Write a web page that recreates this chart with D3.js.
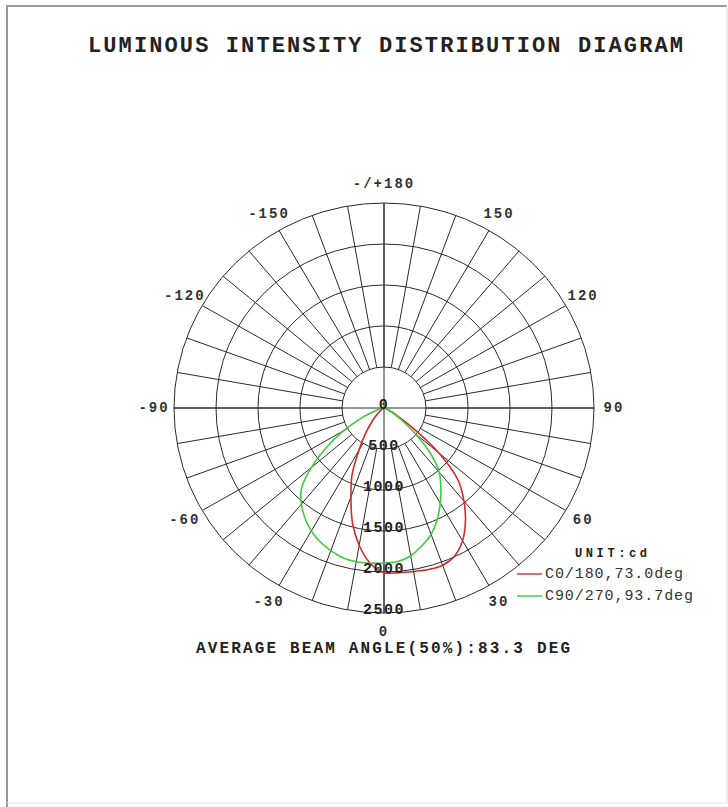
<!DOCTYPE html>
<html><head><meta charset="utf-8">
<script src="https://cdn.jsdelivr.net/npm/d3@7"></script>
<style>body{margin:0;background:#fff}svg{display:block}</style>
</head><body>
<script>
// ---- data ----
const gammaAngles = [0,5,10,15,20,25,30,35,40,45,50,55,60,65,70,75,80,85,90];
// C0/180 plane (red): positive side (right) and negative side (left)
const c0Side   = [2010,2015,2025,2040,2040,1990,1870,1690,1480,1250,850,400,160,65,30,15,8,4,0];
const c180Side = [2010,1900,1700,1450,1150,900,600,390,235,135,70,35,15,8,4,2,1,0,0];
// C90/270 plane (green)
const c90Side  = [1890,1880,1830,1740,1640,1500,1340,1180,1020,780,480,250,120,60,30,15,6,2,0];
const c270Side = [1890,1900,1905,1890,1850,1800,1730,1640,1530,1390,1130,830,560,320,150,70,30,10,0];
const ringValues = [500,1000,1500,2000,2500];
const ringLabels = ["0","500","1000","1500","2000","2500"];
const ringLabelValues = [0,500,1000,1500,2000,2500];
const angleTickValues = [180,150,120,90,60,30,0,-30,-60,-90,-120,-150];
const angleTickLabels = ["-/+180","150","120","90","60","30","0","-30","-60","-90","-120","-150"];
const seriesNames = ["C0/180,73.0deg","C90/270,93.7deg"];
const seriesColors = ["#d42a2a","#3ccc3c"];
const titleText = "LUMINOUS INTENSITY DISTRIBUTION DIAGRAM";
const footText = "AVERAGE BEAM ANGLE(50%):83.3 DEG";
const unitText = "UNIT:cd";

// ---- layout ----
const W = 728, H = 807, cx = 384, cy = 408;
const rX = d3.scaleLinear().domain([0,2500]).range([0,210]);
const rY = d3.scaleLinear().domain([0,2500]).range([0,205]);
const rad = d => d*Math.PI/180;
const px = (v,g) => cx + rX(v)*Math.sin(rad(g));
const py = (v,g) => cy + rY(v)*Math.cos(rad(g));
const FONT = "'Liberation Mono','DejaVu Sans Mono',monospace";

const svg = d3.select("body").append("svg").attr("width",W).attr("height",H);
svg.append("rect").attr("width",W).attr("height",H).attr("fill","#fff");

// frame
svg.append("line").attr("x1",6).attr("x2",727).attr("y1",6).attr("y2",6).attr("stroke","#999").attr("stroke-width",2);
svg.append("line").attr("x1",7).attr("x2",7).attr("y1",6).attr("y2",807).attr("stroke","#999").attr("stroke-width",2);
svg.append("line").attr("x1",727).attr("x2",727).attr("y1",6).attr("y2",803).attr("stroke","#ddd").attr("stroke-width",1);
svg.append("line").attr("x1",7).attr("x2",727).attr("y1",803).attr("y2",803).attr("stroke","#e6e6e6").attr("stroke-width",1);

// title
svg.append("text").attr("x",88).attr("y",52).attr("textLength",595).attr("lengthAdjust","spacing")
  .style("font-family",FONT).style("font-size","22px").style("font-weight","bold").attr("fill","#222").text(titleText);

const grid = svg.append("g").attr("stroke","#2a2a2a").attr("stroke-width",1).attr("fill","none");
// rings
grid.selectAll("ellipse").data(ringValues).join("ellipse")
  .attr("cx",cx).attr("cy",cy).attr("rx",d=>rX(d)).attr("ry",d=>rY(d));
// spokes every 10 deg from inner ring to outer ring
const spokes = d3.range(-170,181,10);
grid.selectAll("line.spoke").data(spokes).join("line").attr("class","spoke")
  .attr("x1",g=>px(ringValues[0],g)).attr("y1",g=>py(ringValues[0],g))
  .attr("x2",g=>px(2500,g)).attr("y2",g=>py(2500,g));
// main axes
grid.append("line").attr("x1",px(2500,90)).attr("x2",px(2500,-90)).attr("y1",cy).attr("y2",cy);
grid.append("line").attr("x1",cx).attr("x2",cx).attr("y1",py(2500,180)).attr("y2",py(2500,0));

// curves
function buildPoints(pos, neg){
  const pts = [];
  for(let i=gammaAngles.length-1;i>0;i--) pts.push({g:-gammaAngles[i], v:neg[i]});
  for(let i=0;i<gammaAngles.length;i++) pts.push({g:gammaAngles[i], v:pos[i]});
  return pts;
}
const line = d3.line().x(d=>px(d.v,d.g)).y(d=>py(d.v,d.g)).curve(d3.curveCatmullRom.alpha(0.5));
const seriesData = [buildPoints(c0Side,c180Side), buildPoints(c90Side,c270Side)];
svg.append("g").selectAll("path").data(seriesData).join("path")
  .attr("d",line).attr("fill","none").attr("stroke",(d,i)=>seriesColors[i]).attr("stroke-width",1.6).attr("stroke-linejoin","round");

// ring labels
svg.append("g").selectAll("text").data(ringLabelValues).join("text")
  .attr("x",cx).attr("y",v=>py(v,0)+1).attr("text-anchor","middle")
  .style("font-family",FONT).style("font-size","15px").style("font-weight","bold").style("letter-spacing","1.5px")
  .attr("fill","#222").text((v,i)=>ringLabels[i]);

// angle labels
svg.append("g").selectAll("text").data(angleTickValues).join("text")
  .attr("x",g=>cx + 230*Math.sin(rad(g))).attr("y",g=>cy + 224*Math.cos(rad(g)))
  .attr("text-anchor","middle").attr("dominant-baseline","central")
  .style("font-family",FONT).style("font-size","14px").style("font-weight","bold").style("letter-spacing","2px")
  .attr("fill","#333").text((g,i)=>angleTickLabels[i]);

// footer
svg.append("text").attr("x",196).attr("y",653).attr("textLength",374).attr("lengthAdjust","spacing")
  .style("font-family",FONT).style("font-size","16px").style("font-weight","bold").attr("fill","#222").text(footText);

// legend
svg.append("text").attr("x",575).attr("y",557).attr("textLength",72).attr("lengthAdjust","spacing")
  .style("font-family",FONT).style("font-size","12px").style("font-weight","bold").attr("fill","#222").text(unitText);
const leg = svg.append("g").selectAll("g").data(seriesNames).join("g")
  .attr("transform",(d,i)=>`translate(517,${574+i*22})`);
leg.append("line").attr("x1",0).attr("x2",25).attr("y1",0).attr("y2",0).attr("stroke",(d,i)=>seriesColors[i]).attr("stroke-width",1.4);
leg.append("text").attr("x",28).attr("y",4).attr("textLength",(d)=>d.length*10-2).attr("lengthAdjust","spacing")
  .style("font-family",FONT).style("font-size","15px").attr("fill","#333").text(d=>d);
</script>
</body></html>
